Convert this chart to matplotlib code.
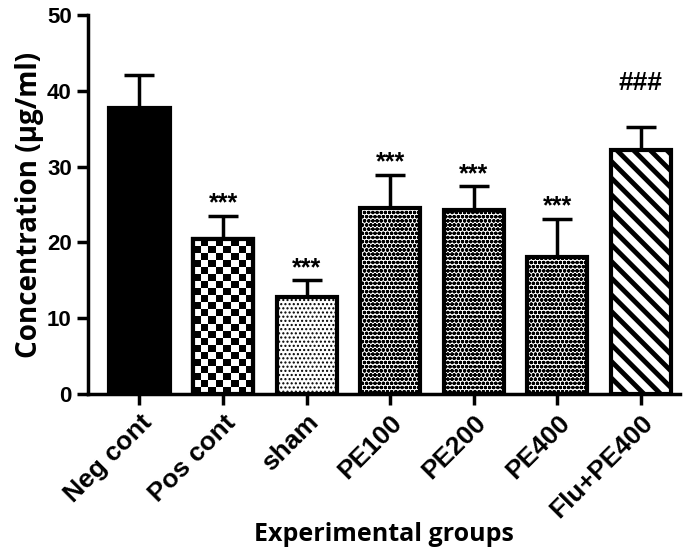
import numpy as np
import matplotlib
matplotlib.use("Agg")
import matplotlib.pyplot as plt

# data
groups = ["Neg cont", "Pos cont", "sham", "PE100", "PE200", "PE400", "Flu+PE400"]
means = [37.7, 20.4, 12.8, 24.6, 24.3, 18.1, 32.2]
sems = [4.4, 3.1, 2.2, 4.3, 3.1, 5.0, 3.0]
marks = ["", "***", "***", "***", "***", "***", "###"]

faces = ["black", "white", "white", "white", "white", "white", "white"]
hatches = [None, None, "....", "oooo", "oooo", "oooo", "\\\\"]
hatch_cols = ["black", "black", "#888888", "#333333", "#333333", "#333333", "black"]
hatch_lw = [1, 1, 1.0, 1.2, 1.2, 1.2, 3.5]

plt.rcParams["font.family"] = ["Liberation Sans", "DejaVu Sans"]

fig = plt.figure(figsize=(6.85, 5.49), dpi=100)
ax = fig.add_axes([0.128, 0.282, 0.865, 0.691])

x = np.arange(len(groups))
bars = []
for i in range(len(groups)):
    with plt.rc_context({"hatch.linewidth": hatch_lw[i], "hatch.color": hatch_cols[i]}):
        b = ax.bar(x[i], means[i], width=0.72, color=faces[i], edgecolor="black",
                   linewidth=3, hatch=hatches[i], zorder=2)
    bars.append(b[0])

# checkerboard for Pos cont, clipped to its bar
pb = bars[1]
x0, w, h = pb.get_x(), pb.get_width(), pb.get_height()
chk = np.indices((22, 8)).sum(axis=0) % 2
im = ax.imshow(chk, cmap="gray_r", extent=[x0, x0 + w, 0, h], aspect="auto",
               interpolation="nearest", zorder=2.1, vmin=0, vmax=1)
im.set_clip_path(pb)
ax.bar(x[1], means[1], width=0.72, color="none", edgecolor="black", linewidth=3, zorder=2.2)

ax.errorbar(x, means, yerr=[np.zeros(len(sems)), sems], fmt="none", ecolor="black",
            elinewidth=2.5, capsize=11, capthick=2.5, zorder=1)

for i, m in enumerate(marks):
    if not m:
        continue
    off = 1.6 if m == "***" else 5.8
    ax.text(x[i], means[i] + sems[i] + off, m, ha="center", va="center",
            fontsize=18 if m == "***" else 19, fontweight="bold")

ax.set_xlim(-0.62, 6.47)
ax.set_ylim(0, 50)
ax.set_yticks([0, 10, 20, 30, 40, 50])
ax.set_xticks(x)
ax.set_xticklabels(groups, rotation=45, ha="right", rotation_mode="anchor",
                   fontsize=19, fontweight="bold")
for t in ax.get_yticklabels():
    t.set_fontsize(16)
    t.set_fontweight("bold")
    t.set_family(["Liberation Sans Narrow", "Liberation Sans", "DejaVu Sans"])

ax.spines["top"].set_visible(False)
ax.spines["right"].set_visible(False)
ax.spines["left"].set_linewidth(2.5)
ax.spines["bottom"].set_linewidth(2.5)
ax.tick_params(axis="both", width=2.5, length=8)

ax.set_ylabel("Concentration (µg/ml)", fontsize=20, fontweight="bold",
              family=["Open Sans", "DejaVu Sans"], labelpad=2)
ax.set_xlabel("Experimental groups", fontsize=18, fontweight="bold",
              family=["Open Sans", "DejaVu Sans"], labelpad=0)

fig.savefig("out.png", dpi=100)
